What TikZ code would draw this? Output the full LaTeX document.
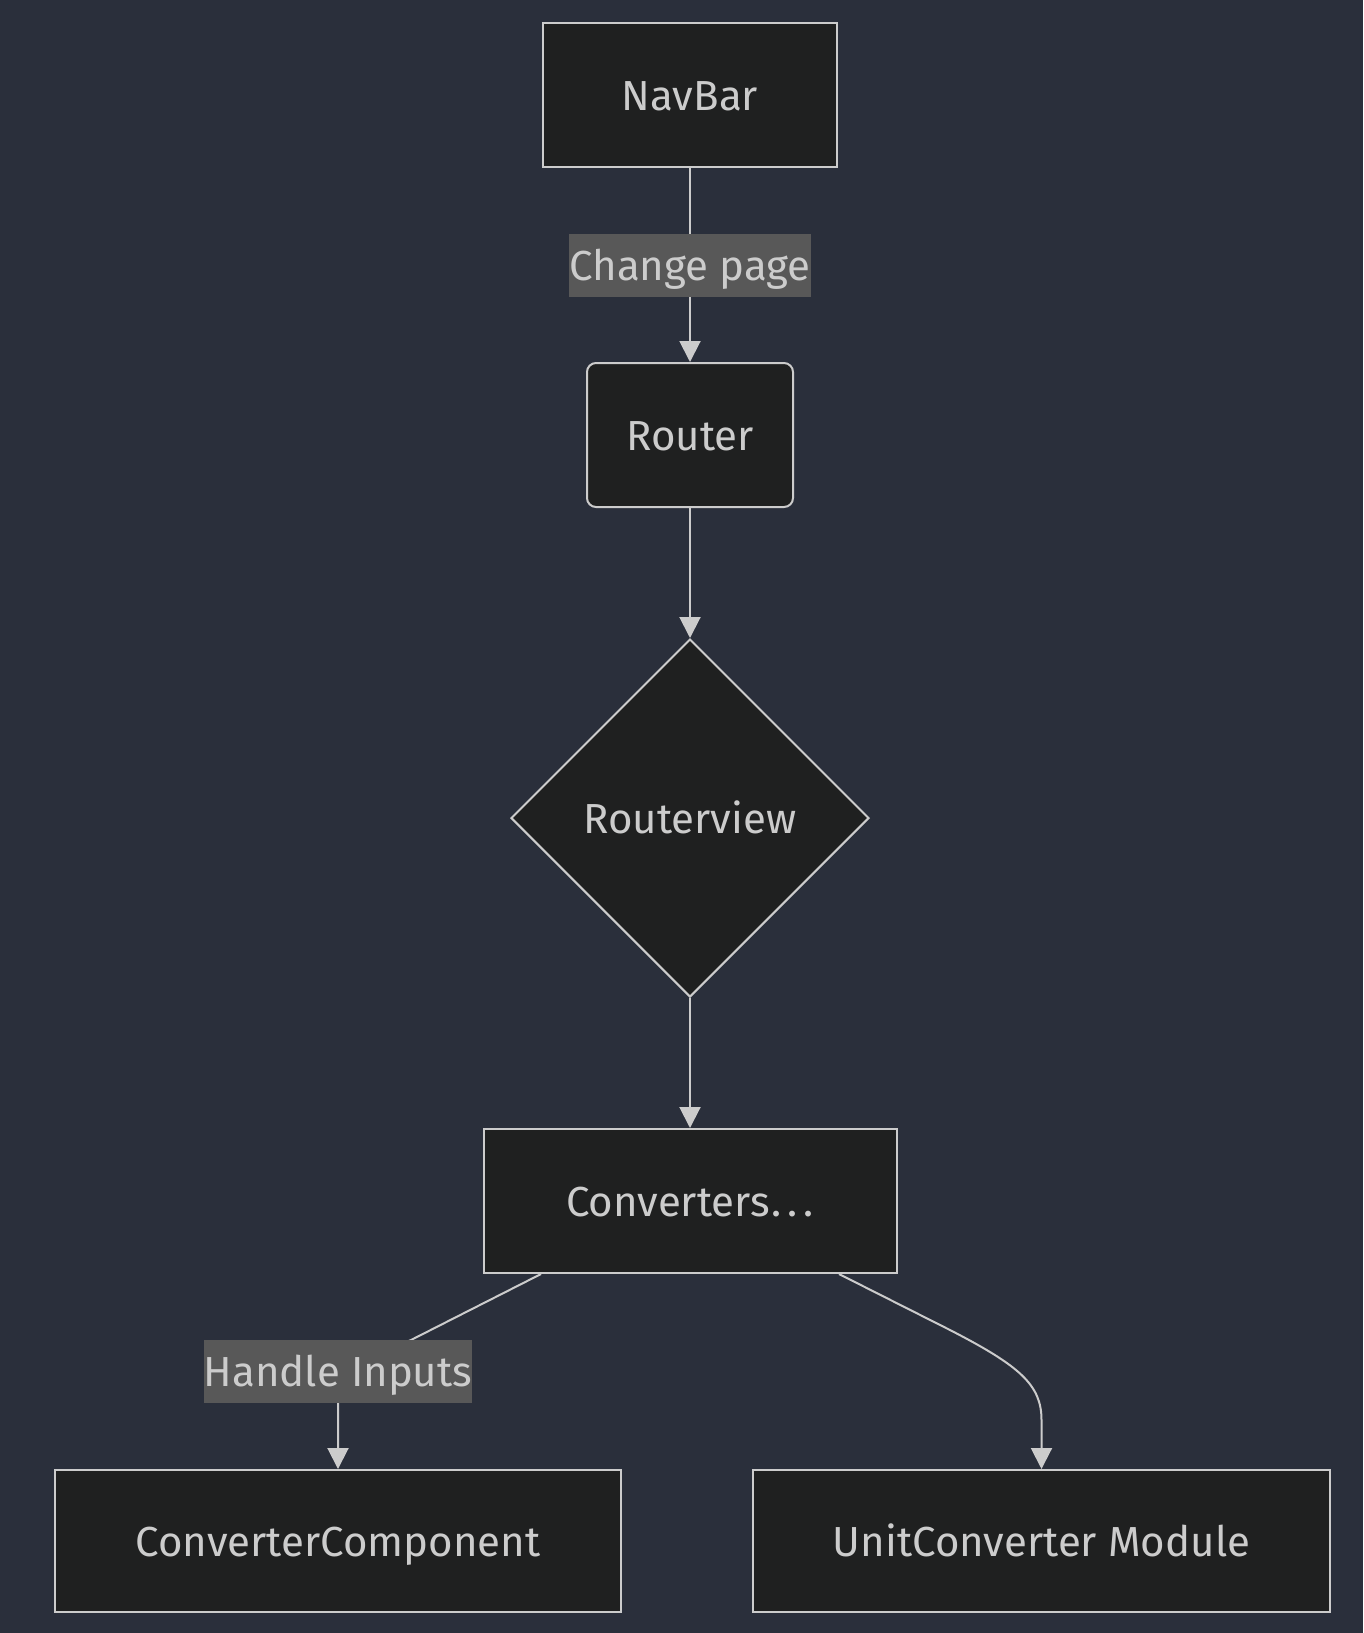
\documentclass[tikz,border=0pt]{standalone}
\usepackage{fontspec}
\setmainfont{Fira Sans}
\usepackage{tikz}
\usetikzlibrary{shapes.geometric}
\usetikzlibrary{arrows.meta}
\tikzset{>={Triangle[length=21pt,width=21pt]}}
\definecolor{bgcol}{HTML}{2A2F3B}
\definecolor{nodefill}{HTML}{1F2020}
\definecolor{linecol}{HTML}{CCCCCC}
\definecolor{labelfill}{HTML}{585858}

\begin{document}
\begin{tikzpicture}[
    x=1pt, y=-1pt,
    every node/.style={font=\fontsize{42}{50}\selectfont, text=linecol,
        text height=31pt, text depth=0pt},
    box/.style={draw=linecol, line width=2pt, fill=nodefill, minimum height=144pt},
    roundbox/.style={box, rounded corners=9pt},
    decision/.style={diamond, draw=linecol, line width=2pt, fill=nodefill,
        minimum width=358pt, minimum height=358pt, inner sep=0pt},
    edgelabel/.style={fill=labelfill, inner xsep=0pt, inner ysep=0pt, minimum height=63pt},
    edge/.style={draw=linecol, line width=2pt, ->},
    ]
    \fill[bgcol] (0,0) rectangle (1363,1633);
    \useasboundingbox (0,0) rectangle (1363,1633);

    \node[box, minimum width=294pt] (navbar) at (690,95) {NavBar};
    \node[roundbox, minimum width=206pt] (router) at (690,435) {Router};
    \node[decision] (routerview) at (690,818) {Routerview};
    \node[box, minimum width=413pt] (conv) at (690,1201) {Converters\kern2pt.\kern6pt.\kern6pt.};
    \node[box, minimum width=566pt, minimum height=142pt] (cc) at (338,1541) {ConverterComponent};
    \node[box, minimum width=577pt, minimum height=142pt] (ucm) at (1041.5,1541) {UnitConverter Module};

    % edges
    \draw[edge] (navbar) -- (router);
    \draw[edge] (router) -- (routerview);
    \draw[edge] (routerview) -- (conv);
    \draw[edge] ([xshift=-149pt]conv.south) -- (411,1340) -- (338,1371) -- (cc.north);
    \draw[edge] ([xshift=149pt]conv.south) -- (950,1330)
        .. controls (1020,1366) and (1041.5,1385) .. (1041.5,1420) -- (ucm.north);

    % labels
    \node[edgelabel] (changepage) at (690,265) {Change page};
    \node[edgelabel] (handleinputs) at (338,1371) {Handle Inputs};
\end{tikzpicture}
\end{document}
